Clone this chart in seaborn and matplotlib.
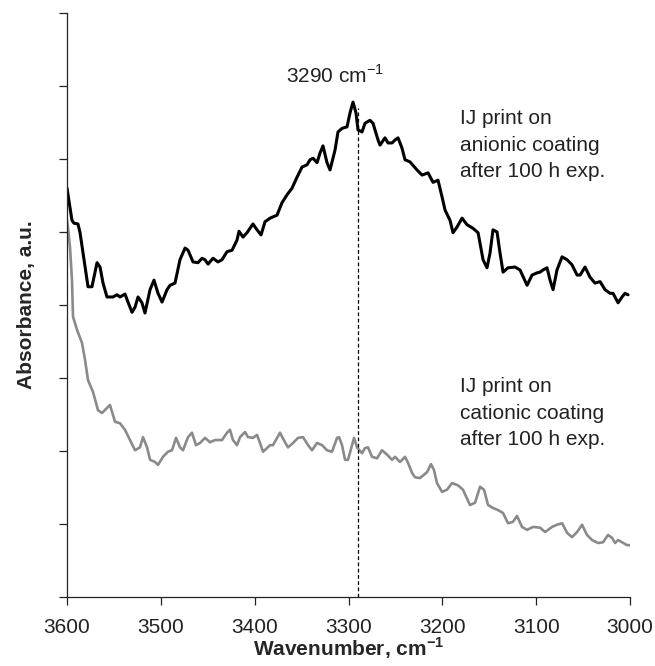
import matplotlib
matplotlib.use("Agg")
import matplotlib.pyplot as plt
import numpy as np
import pandas as pd
import seaborn as sns

# FTIR spectra, O-H / N-H stretching region (absorbance in arbitrary units)
anionic_wn = [3600.0, 3594.7, 3592.5, 3588.3, 3586.1, 3582.9, 3577.6, 3573.4, 3568.0, 3564.8,
              3561.6, 3557.4, 3551.0, 3546.7, 3543.5, 3538.2, 3535.0, 3530.7, 3527.5, 3524.3,
              3520.1, 3516.9, 3511.5, 3507.3, 3503.0, 3498.7, 3493.4, 3490.2, 3484.9, 3479.6,
              3474.2, 3471.0, 3465.7, 3460.4, 3456.1, 3452.9, 3449.7, 3444.4, 3439.1, 3434.8,
              3429.5, 3424.1, 3418.8, 3416.7, 3412.4, 3408.2, 3401.8, 3397.5, 3393.2, 3389.0,
              3383.6, 3376.2, 3370.9, 3365.5, 3360.2, 3354.9, 3349.5, 3344.2, 3341.0, 3337.8,
              3333.5, 3330.4, 3327.2, 3322.9, 3319.7, 3314.4, 3311.2, 3306.9, 3301.6, 3298.4,
              3295.2, 3292.0, 3289.9, 3285.6, 3282.4, 3277.1, 3273.9, 3268.5, 3266.4, 3261.1,
              3257.9, 3253.6, 3250.4, 3247.2, 3243.0, 3239.8, 3234.4, 3227.0, 3221.6, 3215.2,
              3209.9, 3204.6, 3200.3, 3197.1, 3191.8, 3188.6, 3184.3, 3179.0, 3173.7, 3167.3,
              3161.9, 3156.6, 3152.4, 3149.2, 3146.0, 3141.7, 3138.5, 3135.3, 3130.0, 3122.5,
              3117.2, 3109.7, 3104.4, 3099.1, 3095.9, 3092.7, 3088.4, 3085.2, 3082.0, 3077.8,
              3072.4, 3067.1, 3061.8, 3056.4, 3053.2, 3047.9, 3042.6, 3037.3, 3031.9, 3026.6,
              3021.3, 3018.1, 3012.7, 3008.5, 3005.3, 3002.1]
anionic_abs = [5.60, 5.16, 5.12, 5.11, 4.99, 4.71, 4.25, 4.25, 4.58, 4.52,
               4.30, 4.11, 4.11, 4.14, 4.11, 4.15, 4.04, 3.90, 3.97, 4.11,
               4.03, 3.89, 4.21, 4.34, 4.16, 4.04, 4.21, 4.27, 4.30, 4.62,
               4.78, 4.75, 4.59, 4.58, 4.64, 4.62, 4.56, 4.64, 4.59, 4.62,
               4.73, 4.75, 4.89, 5.01, 4.93, 4.99, 5.11, 5.03, 4.96, 5.14,
               5.19, 5.23, 5.40, 5.51, 5.60, 5.75, 5.89, 5.92, 5.99, 6.01,
               5.95, 6.08, 6.18, 5.95, 5.85, 6.12, 6.37, 6.42, 6.44, 6.63,
               6.78, 6.63, 6.40, 6.37, 6.49, 6.53, 6.49, 6.26, 6.19, 6.29,
               6.22, 6.22, 6.26, 6.29, 6.15, 5.99, 5.96, 5.85, 5.78, 5.81,
               5.68, 5.71, 5.48, 5.30, 5.16, 4.99, 5.07, 5.19, 5.10, 5.05,
               4.99, 4.62, 4.51, 4.71, 5.03, 5.00, 4.71, 4.45, 4.51, 4.52,
               4.48, 4.27, 4.41, 4.44, 4.45, 4.48, 4.51, 4.34, 4.21, 4.48,
               4.66, 4.62, 4.55, 4.41, 4.41, 4.52, 4.38, 4.30, 4.32, 4.21,
               4.16, 4.16, 4.03, 4.11, 4.16, 4.14]

cationic_wn = [3600.0, 3598.9, 3596.8, 3594.7, 3593.6, 3589.3, 3584.0, 3580.8, 3577.6, 3572.3,
               3567.0, 3562.7, 3557.4, 3554.2, 3548.8, 3543.5, 3538.2, 3532.9, 3527.5, 3522.2,
               3519.0, 3514.7, 3511.5, 3506.2, 3503.0, 3497.7, 3492.4, 3488.1, 3483.8, 3479.6,
               3476.4, 3471.0, 3466.8, 3462.5, 3458.2, 3452.9, 3447.6, 3442.3, 3434.8, 3429.5,
               3426.3, 3423.1, 3418.8, 3415.6, 3410.3, 3407.1, 3401.8, 3397.5, 3394.3, 3391.1,
               3386.8, 3383.6, 3380.5, 3373.0, 3367.7, 3364.5, 3359.1, 3353.8, 3348.5, 3343.1,
               3338.9, 3333.5, 3328.2, 3322.9, 3317.6, 3312.2, 3310.1, 3306.9, 3303.7, 3300.5,
               3296.3, 3294.1, 3290.9, 3285.6, 3282.4, 3279.2, 3274.9, 3269.6, 3264.3, 3258.9,
               3253.6, 3250.4, 3245.1, 3239.8, 3236.6, 3232.3, 3229.1, 3223.8, 3216.3, 3212.1,
               3208.9, 3205.7, 3200.3, 3195.0, 3189.7, 3183.3, 3178.0, 3170.5, 3165.2, 3159.8,
               3155.6, 3151.3, 3146.0, 3140.6, 3135.3, 3130.0, 3124.7, 3120.4, 3115.1, 3109.7,
               3103.3, 3095.9, 3090.5, 3083.1, 3077.8, 3072.4, 3067.1, 3061.8, 3056.4, 3051.1,
               3045.8, 3040.4, 3034.0, 3028.7, 3023.4, 3019.1, 3015.9, 3012.7, 3008.5, 3003.2,
               3000.0]
cationic_abs = [5.16, 5.05, 4.79, 4.34, 3.84, 3.66, 3.48, 3.25, 2.97, 2.81,
                2.56, 2.52, 2.59, 2.63, 2.40, 2.38, 2.29, 2.15, 2.01, 2.05,
                2.19, 2.05, 1.88, 1.85, 1.81, 1.92, 1.99, 2.01, 2.18, 2.05,
                2.01, 2.19, 2.25, 2.08, 2.11, 2.18, 2.12, 2.15, 2.15, 2.25,
                2.29, 2.15, 2.08, 2.19, 2.26, 2.19, 2.18, 2.22, 2.11, 1.99,
                2.04, 2.08, 2.08, 2.25, 2.12, 2.05, 2.11, 2.18, 2.19, 2.08,
                2.01, 2.11, 2.08, 2.01, 1.99, 2.18, 2.19, 2.08, 1.88, 1.88,
                2.08, 2.18, 2.05, 1.97, 2.04, 2.05, 1.92, 1.90, 2.01, 1.95,
                1.88, 1.92, 1.85, 1.92, 1.84, 1.70, 1.64, 1.63, 1.71, 1.82,
                1.74, 1.56, 1.44, 1.47, 1.56, 1.53, 1.47, 1.26, 1.29, 1.51,
                1.47, 1.26, 1.22, 1.19, 1.15, 1.01, 1.03, 1.11, 0.96, 0.92,
                0.96, 0.95, 0.89, 0.96, 0.99, 1.01, 0.88, 0.82, 0.89, 0.99,
                0.85, 0.78, 0.74, 0.75, 0.85, 0.81, 0.74, 0.78, 0.75, 0.71,
                0.71]

peak_wn = 3290
peak_label = "3290 cm$^{\\mathregular{-1}}$"
anionic_label = "IJ print on\nanionic coating\nafter 100 h exp."
cationic_label = "IJ print on\ncationic coating\nafter 100 h exp."
x_ticks = [3600, 3500, 3400, 3300, 3200, 3100, 3000]
y_ticks = list(range(9))

sns.set_style("ticks")
plt.rcParams["font.family"] = ["Liberation Sans", "DejaVu Sans"]
plt.rcParams["mathtext.fontset"] = "custom"
plt.rcParams["mathtext.rm"] = "Liberation Sans"
plt.rcParams["mathtext.bf"] = "Liberation Sans:bold"

fig = plt.figure(figsize=(6.55, 6.66), dpi=100)
ax = fig.add_axes([67 / 655, 69 / 666, 563 / 655, 584 / 666])

anionic = pd.DataFrame({"wn": anionic_wn, "abs": anionic_abs})
cationic = pd.DataFrame({"wn": cationic_wn, "abs": cationic_abs})

sns.lineplot(data=anionic, x="wn", y="abs", ax=ax, color="black",
             linewidth=2.2, estimator=None, sort=False)
sns.lineplot(data=cationic, x="wn", y="abs", ax=ax, color="#8a8a8a",
             linewidth=1.9, estimator=None, sort=False)

# dashed marker from the axis up to the band maximum
peak_abs = max(anionic_abs)
ax.plot([peak_wn, peak_wn], [0, peak_abs - 0.08], color="black",
        linewidth=0.9, dashes=(3, 2))

# multi-line labels are anchored on the baseline of their last line
ax.text(3314, 7.04, peak_label, ha="center", va="baseline",
        fontsize=15, color="#222222")
ax.text(3181, 5.75, anionic_label, ha="left", va="baseline",
        fontsize=15, color="#222222", linespacing=1.5)
ax.text(3181, 2.08, cationic_label, ha="left", va="baseline",
        fontsize=15, color="#222222", linespacing=1.5)

ax.set_xlim(3600, 3000)
ax.set_ylim(0, 8)
ax.set_xticks(x_ticks)
ax.set_xticklabels([str(t) for t in x_ticks])
ax.set_yticks(y_ticks)
ax.set_yticklabels([])

ax.tick_params(axis="both", direction="out", length=6, width=0.9,
               color="#222222", labelsize=15, labelcolor="#222222")
ax.tick_params(axis="x", pad=9)
for side in ("left", "bottom"):
    ax.spines[side].set_color("#222222")
    ax.spines[side].set_linewidth(0.9)
sns.despine(ax=ax)

ax.set_xlabel("Wavenumber, cm$^{\\mathbf{-1}}$", fontsize=15,
              fontweight="bold", labelpad=-1)
ax.set_ylabel("Absorbance, a.u.", fontsize=15, fontweight="bold",
              labelpad=13)

fig.savefig("out.png", dpi=100)
